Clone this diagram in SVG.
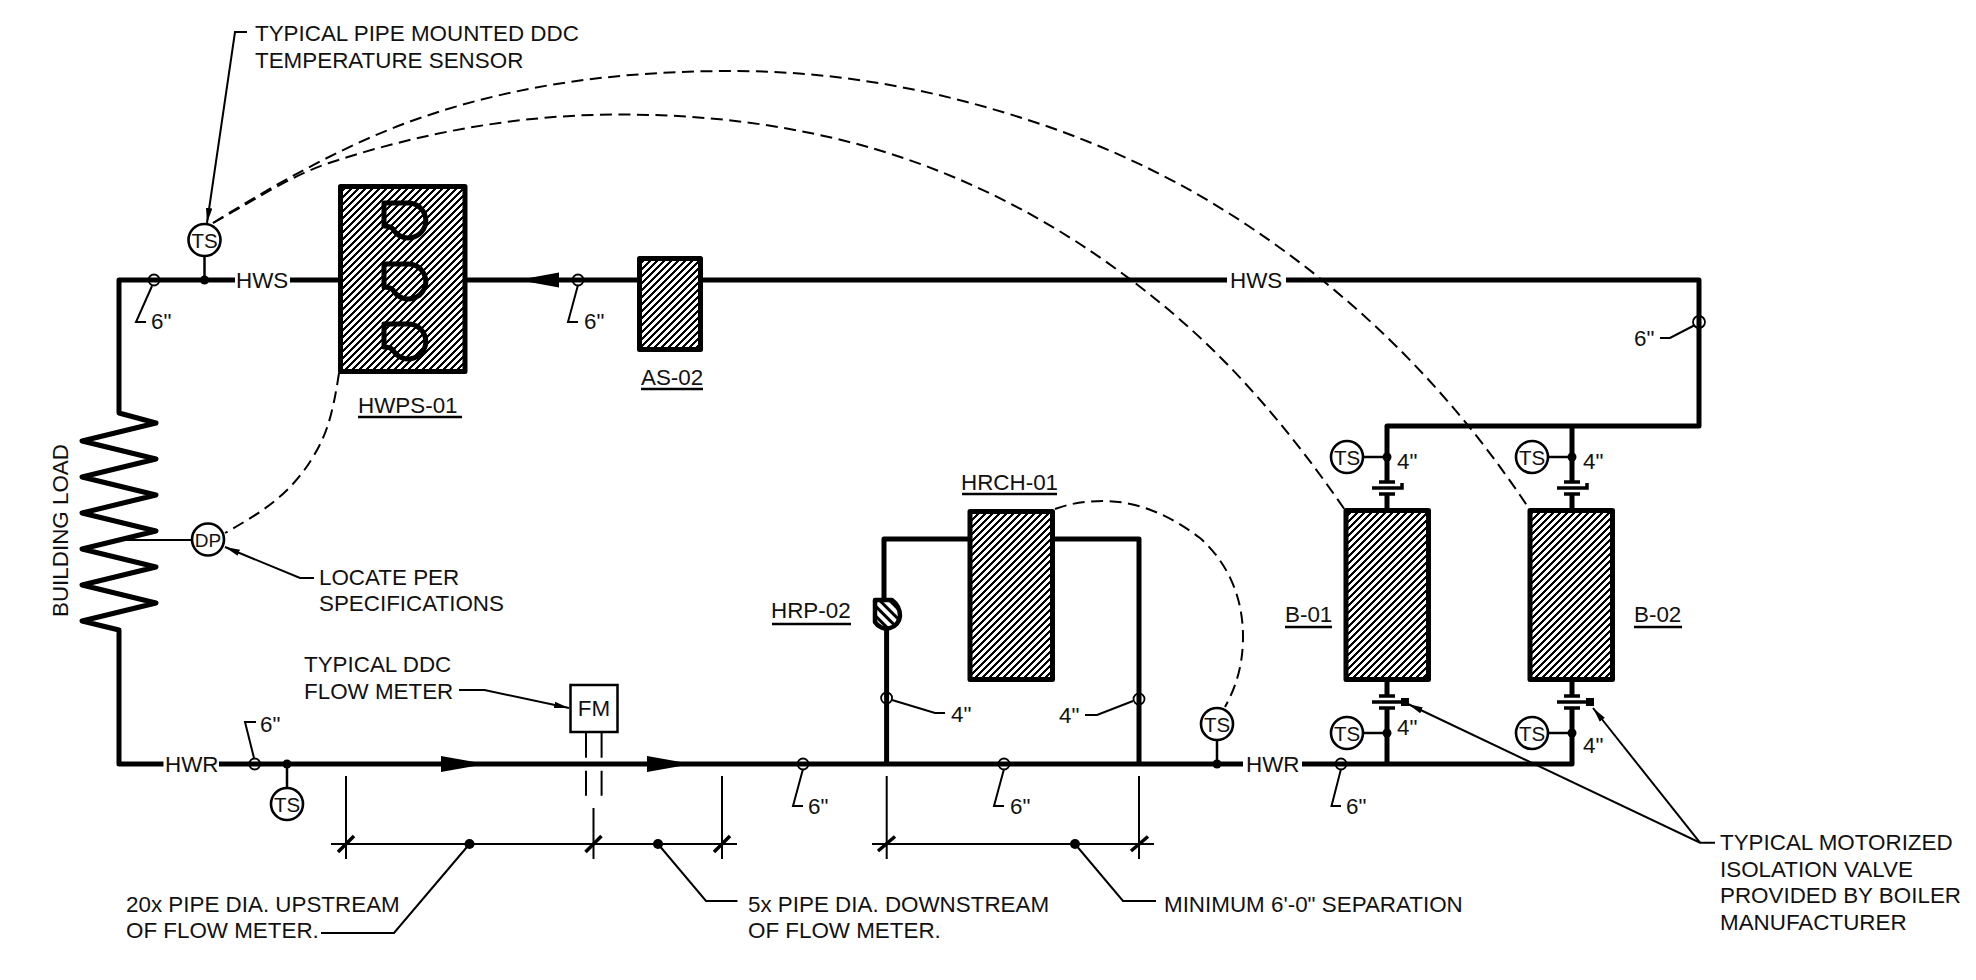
<svg xmlns="http://www.w3.org/2000/svg" width="1976" height="980" viewBox="0 0 1976 980">
<style>
text{font-family:"Liberation Sans",Arial,sans-serif;font-size:22.4px;fill:#111}
.m{text-anchor:middle}
.ts{font-size:20.5px}
.pipe{fill:none;stroke:#000;stroke-width:5;stroke-linejoin:round}
.thin{fill:none;stroke:#000;stroke-width:2}
.med{fill:none;stroke:#000;stroke-width:2.5}
.dash{fill:none;stroke:#000;stroke-width:2;stroke-dasharray:12 6.5}
.tick{fill:none;stroke:#000;stroke-width:3.5}
.eq{fill:url(#h);stroke:#000;stroke-width:5;stroke-linejoin:round}
.imp{fill:none;stroke:#000;stroke-width:5;stroke-linejoin:round}
.weld{fill:none;stroke:#000;stroke-width:1.8}
.inst{fill:#fff;stroke:#000;stroke-width:2.6}
.dot{fill:#000}
.arr{fill:#000}
</style>
<defs>
<pattern id="h" patternUnits="userSpaceOnUse" width="7" height="7">
<rect width="7" height="7" fill="#fff"/>
<path shape-rendering="crispEdges" fill="#000" d="M6 0h1v1h-1zM0 0h2v1h-2zM5 1h2v1h-2zM0 1h1v1h-1zM4 2h3v1h-3zM3 3h3v1h-3zM2 4h3v1h-3zM1 5h3v1h-3zM0 6h3v1h-3z"/>
</pattern>
<pattern id="h2" patternUnits="userSpaceOnUse" width="7" height="7" patternTransform="rotate(-45)">
<rect width="7" height="7" fill="#fff"/><rect width="3" height="7" fill="#000"/>
</pattern>
<marker id="ah" markerUnits="userSpaceOnUse" markerWidth="16" markerHeight="8" viewBox="0 -4 16 8" refX="15" refY="0" orient="auto-start-reverse">
<path d="M0 -3.2L15 0L0 3.2Z" fill="#000"/>
</marker>
</defs>
<rect width="1976" height="980" fill="#fff"/>

<g id="connectors">
<g id="control-wiring">
<path class="dash" d="M213 223C277 183 342 147 406 123C515 83 624 71 733 71C811 71 889 81.5 967 102C1060 126.5 1154 163 1247 225C1298 259 1349 299 1400 350C1443 393 1487 445 1530 510"/>
<path class="dash" d="M213 223C252 201.5 290 176 329 163C426 131 523 114.5 620 114.5C691 114.5 762 121.3 833 138C915 157 998 191 1080 244C1124 273 1170 308 1213 350C1257 393 1301 446 1345 510"/>
<path class="dash" d="M339 373C332 420 325 437 313 457C290 495 262 512 225 533"/>
<path class="dash" d="M1055 509C1071 503 1087 501 1103 501C1140 501 1172 517 1200 538C1228 563 1243 597 1243 637C1243 665 1236 687 1225 707"/>
</g>
<g id="pipes">
<path class="pipe" d="M235 280H119V413L156 423L82 441L156 459L82 477L156 495L82 513L156 531L82 549L156 567L82 585L156 603L82 621L119 630V764H163.500"/>
<path class="pipe" d="M290 280H340"/>
<path class="pipe" d="M465 280H639"/>
<path class="pipe" d="M700 280H1227"/>
<path class="pipe" d="M1286 280H1699V426H1387V482"/>
<path class="pipe" d="M1387 494V510"/>
<path class="pipe" d="M1572 426V482"/>
<path class="pipe" d="M1572 494V510"/>
<path class="pipe" d="M1387 680V696"/>
<path class="pipe" d="M1387 708V764"/>
<path class="pipe" d="M1572 680V696"/>
<path class="pipe" d="M1572 708V764H1302"/>
<path class="pipe" d="M219 764H1243"/>
<path class="pipe" d="M970 539H884V600"/>
<path class="pipe" d="M1052 539H1139V764"/>
<path class="pipe" d="M886.600 630V764"/>
<path class="arr" d="M518 280L559 272.500V287.500Z"/>
<path class="arr" d="M486 764L441 756V772Z"/>
<path class="arr" d="M692 764L647 756V772Z"/>
</g>
<g id="welds">
<circle class="weld" cx="154" cy="280" r="5.500"/>
<circle class="weld" cx="578" cy="280" r="5.500"/>
<circle class="weld" cx="1699" cy="322" r="6"/>
<circle class="weld" cx="254.700" cy="764" r="5.500"/>
<circle class="weld" cx="803" cy="764" r="5.500"/>
<circle class="weld" cx="1004" cy="764" r="5.500"/>
<circle class="weld" cx="1341" cy="764" r="5.500"/>
<circle class="weld" cx="886.600" cy="698" r="5.500"/>
<circle class="weld" cx="1139" cy="699" r="5.500"/>
</g>
<g id="leaders">
<path class="thin" d="M247 32H235L207 223" marker-end="url(#ah)"/>
<path class="thin" d="M152 286L136 322H146"/>
<path class="thin" d="M578 285L568 322H578"/>
<path class="thin" d="M1695 325L1670 338H1660"/>
<path class="thin" d="M254 758L245 722H256"/>
<path class="thin" d="M803 769L793 806H803"/>
<path class="thin" d="M1004 769L994 806H1004"/>
<path class="thin" d="M1341 769L1331.500 806H1341"/>
<path class="thin" d="M892 700L935 713H945"/>
<path class="thin" d="M1133 701L1097 715H1085"/>
<path class="thin" d="M314 578H300L225 547" marker-end="url(#ah)"/>
<path class="thin" d="M459 690H484.500L569 708" marker-end="url(#ah)"/>
<path class="thin" d="M1715 842.700H1700L1408 704" marker-end="url(#ah)"/>
<path class="thin" d="M1700 842.700L1593 708" marker-end="url(#ah)"/>
<path class="thin" d="M469.500 844L394 933H321"/>
<path class="thin" d="M658 844L706 901H737.500"/>
<path class="thin" d="M1075 844L1123 901H1156"/>
<path class="thin" d="M586 732V757.700M601.600 732V757.700M586 770.700V795.700M601.600 770.700V795.700"/>
<path class="thin" d="M346 776V859M593.500 808V859M722 776V859M886.700 776V859M1139 776V859"/>
<path class="thin" d="M331 844H737M872 844H1154"/>
<path class="tick" d="M338 852L354 836M585.500 852L601.500 836M714 852L730 836M878 851L895 836.500M1131 851L1148 836.500"/>
<circle class="dot" cx="469.500" cy="844" r="5"/>
<circle class="dot" cx="658" cy="844" r="5"/>
<circle class="dot" cx="1075" cy="844" r="5"/>
<path class="thin" d="M125 540H192"/>
</g>
</g>

<g id="HWPS-01">
<rect class="eq" x="340.500" y="186.500" width="124.500" height="185"/>
<path class="imp" d="M384 203H408A17.500 17.500 0 1 1 393 229Q390 226 384 226Z"/>
<path class="imp" d="M384 264H408A17.500 17.500 0 1 1 393 290Q390 287 384 287Z"/>
<path class="imp" d="M384 324H408A17.500 17.500 0 1 1 393 350Q390 347 384 347Z"/>
<text x="358" y="413">HWPS-01</text>
<path class="med" d="M358 417H462"/>
</g>
<g id="AS-02">
<rect class="eq" x="639.500" y="258.500" width="61" height="91"/>
<text x="641" y="385">AS-02</text>
<path class="med" d="M641 389H703"/>
</g>
<g id="HRCH-01">
<rect class="eq" x="970" y="511.500" width="82.500" height="168"/>
<text x="961" y="490">HRCH-01</text>
<path class="med" d="M962 494H1057"/>
</g>
<g id="HRP-02">
<path d="M875 600H892Q900 606 900 616A13.500 13.500 0 0 1 875 622Z" fill="url(#h2)" stroke="#000" stroke-width="4.500" stroke-linejoin="round"/>
<text x="771" y="618">HRP-02</text>
<path class="med" d="M772 624H851"/>
</g>
<g id="B-01">
<rect class="eq" x="1346" y="510.500" width="82.500" height="169"/>
<text x="1285" y="622">B-01</text>
<path class="med" d="M1285 627H1332"/>
</g>
<g id="B-02">
<rect class="eq" x="1530" y="510.500" width="82.500" height="169"/>
<text x="1634" y="622">B-02</text>
<path class="med" d="M1634 627H1682"/>
</g>
<g id="valves">
<path class="tick" d="M1379 482H1395M1379 494H1395M1372 488H1402V483"/>
<path class="tick" d="M1564 482H1580M1564 494H1580M1557 488H1587V483"/>
<path class="tick" d="M1379 696H1395M1379 708H1395M1372 702H1402"/>
<path class="tick" d="M1564 696H1580M1564 708H1580M1557 702H1587"/>
<rect class="dot" x="1401" y="698" width="8" height="8"/>
<rect class="dot" x="1586" y="698" width="8" height="8"/>
</g>
<g id="TS-HWS">
<path class="med" d="M204.500 256V280"/><circle class="dot" cx="204.500" cy="280" r="4.500"/>
<circle class="inst" cx="204.500" cy="240" r="16"/><text class="m ts" x="204.500" y="247.500">TS</text>
</g>
<g id="TS-HWR">
<path class="med" d="M287 764V788"/><circle class="dot" cx="287" cy="764" r="4.500"/>
<circle class="inst" cx="287" cy="804" r="16"/><text class="m ts" x="287" y="811.500">TS</text>
</g>
<g id="TS-HRCH">
<path class="med" d="M1217 740V764"/><circle class="dot" cx="1217" cy="764" r="4.500"/>
<circle class="inst" cx="1217" cy="724" r="16"/><text class="m ts" x="1217" y="731.500">TS</text>
</g>
<g id="TS-B01-S">
<path class="med" d="M1362 457H1387"/><circle class="dot" cx="1387" cy="457" r="4.500"/>
<circle class="inst" cx="1347" cy="457" r="16"/><text class="m ts" x="1347" y="464.500">TS</text>
</g>
<g id="TS-B02-S">
<path class="med" d="M1547 457H1572"/><circle class="dot" cx="1572" cy="457" r="4.500"/>
<circle class="inst" cx="1532" cy="457" r="16"/><text class="m ts" x="1532" y="464.500">TS</text>
</g>
<g id="TS-B01-R">
<path class="med" d="M1362 733H1387"/><circle class="dot" cx="1387" cy="733" r="4.500"/>
<circle class="inst" cx="1347" cy="733" r="16"/><text class="m ts" x="1347" y="740.500">TS</text>
</g>
<g id="TS-B02-R">
<path class="med" d="M1547 733H1572"/><circle class="dot" cx="1572" cy="733" r="4.500"/>
<circle class="inst" cx="1532" cy="733" r="16"/><text class="m ts" x="1532" y="740.500">TS</text>
</g>
<g id="DP">
<circle class="inst" cx="208" cy="539.500" r="16"/><text class="m" x="208" y="546.500" style="font-size:19px">DP</text>
</g>
<g id="FM">
<rect x="570.500" y="685" width="47" height="47" fill="#fff" stroke="#000" stroke-width="2.500"/>
<text class="m" x="594" y="716">FM</text>
</g>
<g id="labels">
<text transform="translate(68 617) rotate(-90)">BUILDING LOAD</text>
<text x="236" y="287.500">HWS</text>
<text x="1230" y="287.500">HWS</text>
<text x="165" y="771.500">HWR</text>
<text x="1246" y="771.500">HWR</text>
<text x="255" y="41">TYPICAL PIPE MOUNTED DDC</text>
<text x="255" y="68">TEMPERATURE SENSOR</text>
<text x="319" y="585">LOCATE PER</text>
<text x="319" y="611">SPECIFICATIONS</text>
<text x="304" y="672">TYPICAL DDC</text>
<text x="304" y="699">FLOW METER</text>
<text x="126" y="912">20x PIPE DIA. UPSTREAM</text>
<text x="126" y="938">OF FLOW METER.</text>
<text x="748" y="912">5x PIPE DIA. DOWNSTREAM</text>
<text x="748" y="938">OF FLOW METER.</text>
<text x="1164" y="912">MINIMUM 6'-0" SEPARATION</text>
<text x="1720" y="850">TYPICAL MOTORIZED</text>
<text x="1720" y="877">ISOLATION VALVE</text>
<text x="1720" y="903">PROVIDED BY BOILER</text>
<text x="1720" y="930">MANUFACTURER</text>
<text x="151" y="329">6"</text>
<text x="584" y="329">6"</text>
<text x="1634" y="346">6"</text>
<text x="260" y="732">6"</text>
<text x="808" y="814">6"</text>
<text x="1010" y="814">6"</text>
<text x="1346" y="814">6"</text>
<text x="951" y="722">4"</text>
<text x="1059" y="723">4"</text>
<text x="1397" y="469">4"</text>
<text x="1583" y="469">4"</text>
<text x="1397" y="735">4"</text>
<text x="1583" y="753">4"</text>
</g>
</svg>
